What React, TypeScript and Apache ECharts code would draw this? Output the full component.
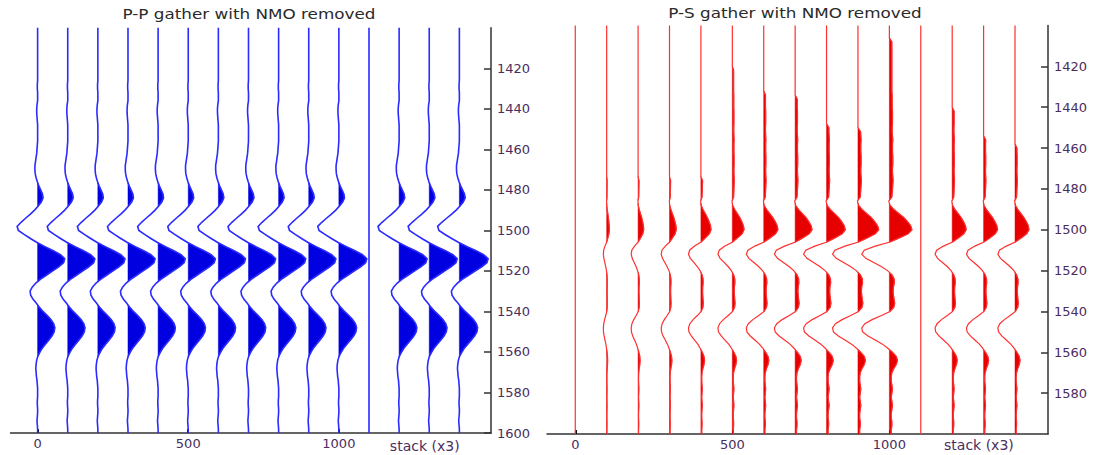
import { useEffect, useRef } from 'react';
import * as echarts from 'echarts';

// Sampling of every trace along the time axis (ms)
const SAMPLE_START_MS = 1400;
const SAMPLE_STEP_MS = 2;

// Trace offsets (m): eleven gather traces, a dead separator trace at 1100,
// then three copies of the stacked trace
const traceOffsets = [0, 100, 200, 300, 400, 500, 600, 700, 800, 900, 1000, 1100, 1200, 1300, 1400];

// P-P wavelet, one sample every 2 ms from 1400 to 1600 ms (deflection in offset units)
const ppWavelet = [
  0, 0, 0, 0, 0, 0, 0, 0, 0, 0, // 1400
  0, 0, 0, 0, -1, -1, 0, 0, 0, -2, // 1420
  -3, -3, -2, -1, 0, 0, 0, 0, 0, -1, // 1440
  -2, -3, -5, -7, -9, -9, -8, -5, -1, 4, // 1460
  10, 16, 18, 12, 2, -10, -24, -40, -55, -68, // 1480
  -64, -45, -24, -2, 24, 52, 76, 90, 86, 70, // 1500
  50, 30, 10, -6, -18, -25, -23, -15, -4, 6, // 1520
  18, 32, 44, 53, 57, 55, 48, 38, 27, 16, // 1540
  8, 1, -3, -5, -6, -5, -4, -2, -1, 0, // 1560
  0, 0, -1, -1, 0, 0, -1, -2, -1, 0, // 1580
  0, // 1600
];
// Per-trace gain of the P-P wavelet
const ppGains = [1, 1, 1, 1, 1, 1, 1, 1, 1, 1, 1.03, 0, 1.03, 1.03, 1.06];

// P-S wavelet, same sampling, scaled to the 1000 m trace
const psWavelet = [
  0, 0, 0, 0, 8, 8, 8, 8, 8, 8, // 1400
  8, 8, 8, 8, 8, 8, 8, 9, 9, 9, // 1420
  9, 10, 10, 10, 10, 9, 9, 10, 11, 10, // 1440
  10, 10, 11, 11, 11, 10, 10, 11, 12, 11, // 1460
  10, 9, 8, -2, 2, 14, 30, 46, 58, 68, // 1480
  72, 60, 32, 2, -45, -80, -88, -75, -50, -26, // 1500
  -6, 8, 15, 16, 13, 12, 13, 15, 17, 14, // 1520
  2, -25, -55, -78, -88, -85, -68, -45, -22, -5, // 1540
  10, 22, 26, 22, 14, 8, 6, 6, 8, 10, // 1560
  8, 6, 8, 10, 8, 6, 6, 8, 8, 6, // 1580
  6, // 1600
];
// Per-trace gain of the P-S wavelet (converted energy grows with offset)
const psGains = [0, 0.12, 0.25, 0.3, 0.45, 0.52, 0.63, 0.75, 0.83, 0.92, 1, 0, 0.62, 0.62, 0.62];
// Time at which the low-level positive drift of each P-S trace begins (ms)
const psDriftOnset = [1600, 1476, 1476, 1476, 1476, 1422, 1433, 1436, 1450, 1452, 1408, 1600, 1442, 1455, 1459];

// Axis labels
const ppTimeTicks = [1420, 1440, 1460, 1480, 1500, 1520, 1540, 1560, 1580, 1600];
const psTimeTicks = [1420, 1440, 1460, 1480, 1500, 1520, 1540, 1560, 1580];
const offsetTicks = [0, 500, 1000];
const STACK_LABEL = 'stack (x3)';
const STACK_LABEL_AT = 1285;

const PP_TITLE = 'P-P gather with NMO removed';
const PS_TITLE = 'P-S gather with NMO removed';

const FONT = 'DejaVu Sans';
const LABEL_COLOR = '#4a2d5e';
const AXIS_COLOR = '#333333';

type WiggleStyle = {
  wave: number[];
  gains: number[];
  onset?: number[];
  line: string;
  fill: string;
  width: number;
};

// Wiggle trace with variable-area fill of the positive lobes
function makeWiggleRenderer(w: WiggleStyle) {
  return (_params: any, api: any) => {
    const offset = api.value(0);
    const idx = api.value(2);
    const gain = w.gains[idx];
    const onset = w.onset ? w.onset[idx] : -Infinity;
    const samples = w.wave.map((a, i) => {
      const t = SAMPLE_START_MS + i * SAMPLE_STEP_MS;
      return [t < onset ? 0 : a * gain, t];
    });
    const line = samples.map(([a, t]) => api.coord([offset + a, t]));

    const lobes: number[][][] = [];
    let cur: number[][] | null = null;
    for (let i = 0; i < samples.length; i++) {
      const [a, t] = samples[i];
      if (a > 0) {
        if (!cur) {
          cur = [];
          if (i > 0) {
            const [pa, pt] = samples[i - 1];
            const tc = pt + ((t - pt) * (0 - pa)) / (a - pa);
            cur.push(api.coord([offset, tc]));
          } else {
            cur.push(api.coord([offset, t]));
          }
        }
        cur.push(api.coord([offset + a, t]));
      } else if (cur) {
        const [pa, pt] = samples[i - 1];
        const tc = pt + ((t - pt) * pa) / (pa - a);
        cur.push(api.coord([offset, tc]));
        lobes.push(cur);
        cur = null;
      }
    }
    if (cur) {
      cur.push(api.coord([offset, samples[samples.length - 1][1]]));
      lobes.push(cur);
    }

    return {
      type: 'group',
      children: [
        ...lobes.map((points) => ({
          type: 'polygon',
          shape: { points },
          style: { fill: w.fill, stroke: w.fill, lineWidth: 0.5 },
        })),
        {
          type: 'polyline',
          shape: { points: line },
          style: { stroke: w.line, lineWidth: w.width, fill: null },
        },
      ],
    };
  };
}

function offsetAxis(gridIndex: number, stackPad: number) {
  return {
    type: 'value',
    gridIndex,
    min: -90,
    max: 1505,
    position: 'bottom',
    splitLine: { show: false },
    axisLine: { show: true, onZero: false, lineStyle: { color: AXIS_COLOR, width: 1.5 } },
    axisTick: {
      show: true,
      inside: true,
      length: 4,
      customValues: offsetTicks,
      lineStyle: { color: '#111', width: 2 },
    },
    axisLabel: {
      customValues: [...offsetTicks, STACK_LABEL_AT],
      margin: 4,
      color: LABEL_COLOR,
      fontFamily: FONT,
      fontSize: 13,
      formatter: (v: number) => (v === STACK_LABEL_AT ? `{s|${STACK_LABEL}}` : String(v)),
      rich: {
        s: { fontFamily: FONT, fontSize: 14, color: LABEL_COLOR, padding: [stackPad, 0, 0, 0] },
      },
    },
  };
}

function timeAxis(gridIndex: number, ticks: number[]) {
  return {
    type: 'value',
    gridIndex,
    min: 1400,
    max: 1600,
    inverse: true,
    position: 'right',
    splitLine: { show: false },
    axisLine: { show: true, onZero: false, lineStyle: { color: AXIS_COLOR, width: 1.5 } },
    axisTick: {
      show: true,
      inside: true,
      length: 7,
      customValues: ticks,
      lineStyle: { color: AXIS_COLOR, width: 1.5 },
    },
    axisLabel: {
      customValues: ticks,
      margin: 6,
      color: LABEL_COLOR,
      fontFamily: FONT,
      fontSize: 13,
      formatter: (v: number) => String(v),
    },
  };
}

export default function App() {
  const ref = useRef<HTMLDivElement>(null);

  useEffect(() => {
    if (!ref.current) return;
    const chart = echarts.init(ref.current, undefined, { renderer: 'svg' });
    const traceData = traceOffsets.map((o, i) => [o, 1500, i]);

    chart.setOption({
      animation: false,
      backgroundColor: '#ffffff',
      grid: [
        { left: 10.5, top: 27.8, width: 480.5, height: 405.2, containLabel: false, outerBoundsMode: 'none' },
        { left: 547, top: 25.5, width: 501, height: 408.5, containLabel: false, outerBoundsMode: 'none' },
      ],
      xAxis: [offsetAxis(0, 2), offsetAxis(1, 0)],
      yAxis: [timeAxis(0, ppTimeTicks), timeAxis(1, psTimeTicks)],
      graphic: [
        {
          type: 'text',
          x: 249,
          y: 14,
          scaleX: 1.2,
          style: {
            text: PP_TITLE,
            fontFamily: FONT,
            fontSize: 14,
            fill: '#2a2a2a',
            textAlign: 'center',
            textVerticalAlign: 'middle',
          },
        },
        {
          type: 'text',
          x: 795,
          y: 13,
          scaleX: 1.2,
          style: {
            text: PS_TITLE,
            fontFamily: FONT,
            fontSize: 14,
            fill: '#2a2a2a',
            textAlign: 'center',
            textVerticalAlign: 'middle',
          },
        },
      ],
      series: [
        {
          type: 'custom',
          name: 'P-P',
          xAxisIndex: 0,
          yAxisIndex: 0,
          silent: true,
          encode: { x: 0, y: 1 },
          data: traceData,
          renderItem: makeWiggleRenderer({
            wave: ppWavelet,
            gains: ppGains,
            line: '#2b2bff',
            fill: '#0000e0',
            width: 1.6,
          }),
        },
        {
          type: 'custom',
          name: 'P-S',
          xAxisIndex: 1,
          yAxisIndex: 1,
          silent: true,
          encode: { x: 0, y: 1 },
          data: traceData,
          renderItem: makeWiggleRenderer({
            wave: psWavelet,
            gains: psGains,
            onset: psDriftOnset,
            line: '#ff3030',
            fill: '#e60000',
            width: 1.2,
          }),
        },
      ],
    });

    return () => chart.dispose();
  }, []);

  return (
    <div
      ref={ref}
      style={{ position: 'fixed', left: 0, top: 0, width: 1097, height: 455, background: '#fff' }}
    />
  );
}
